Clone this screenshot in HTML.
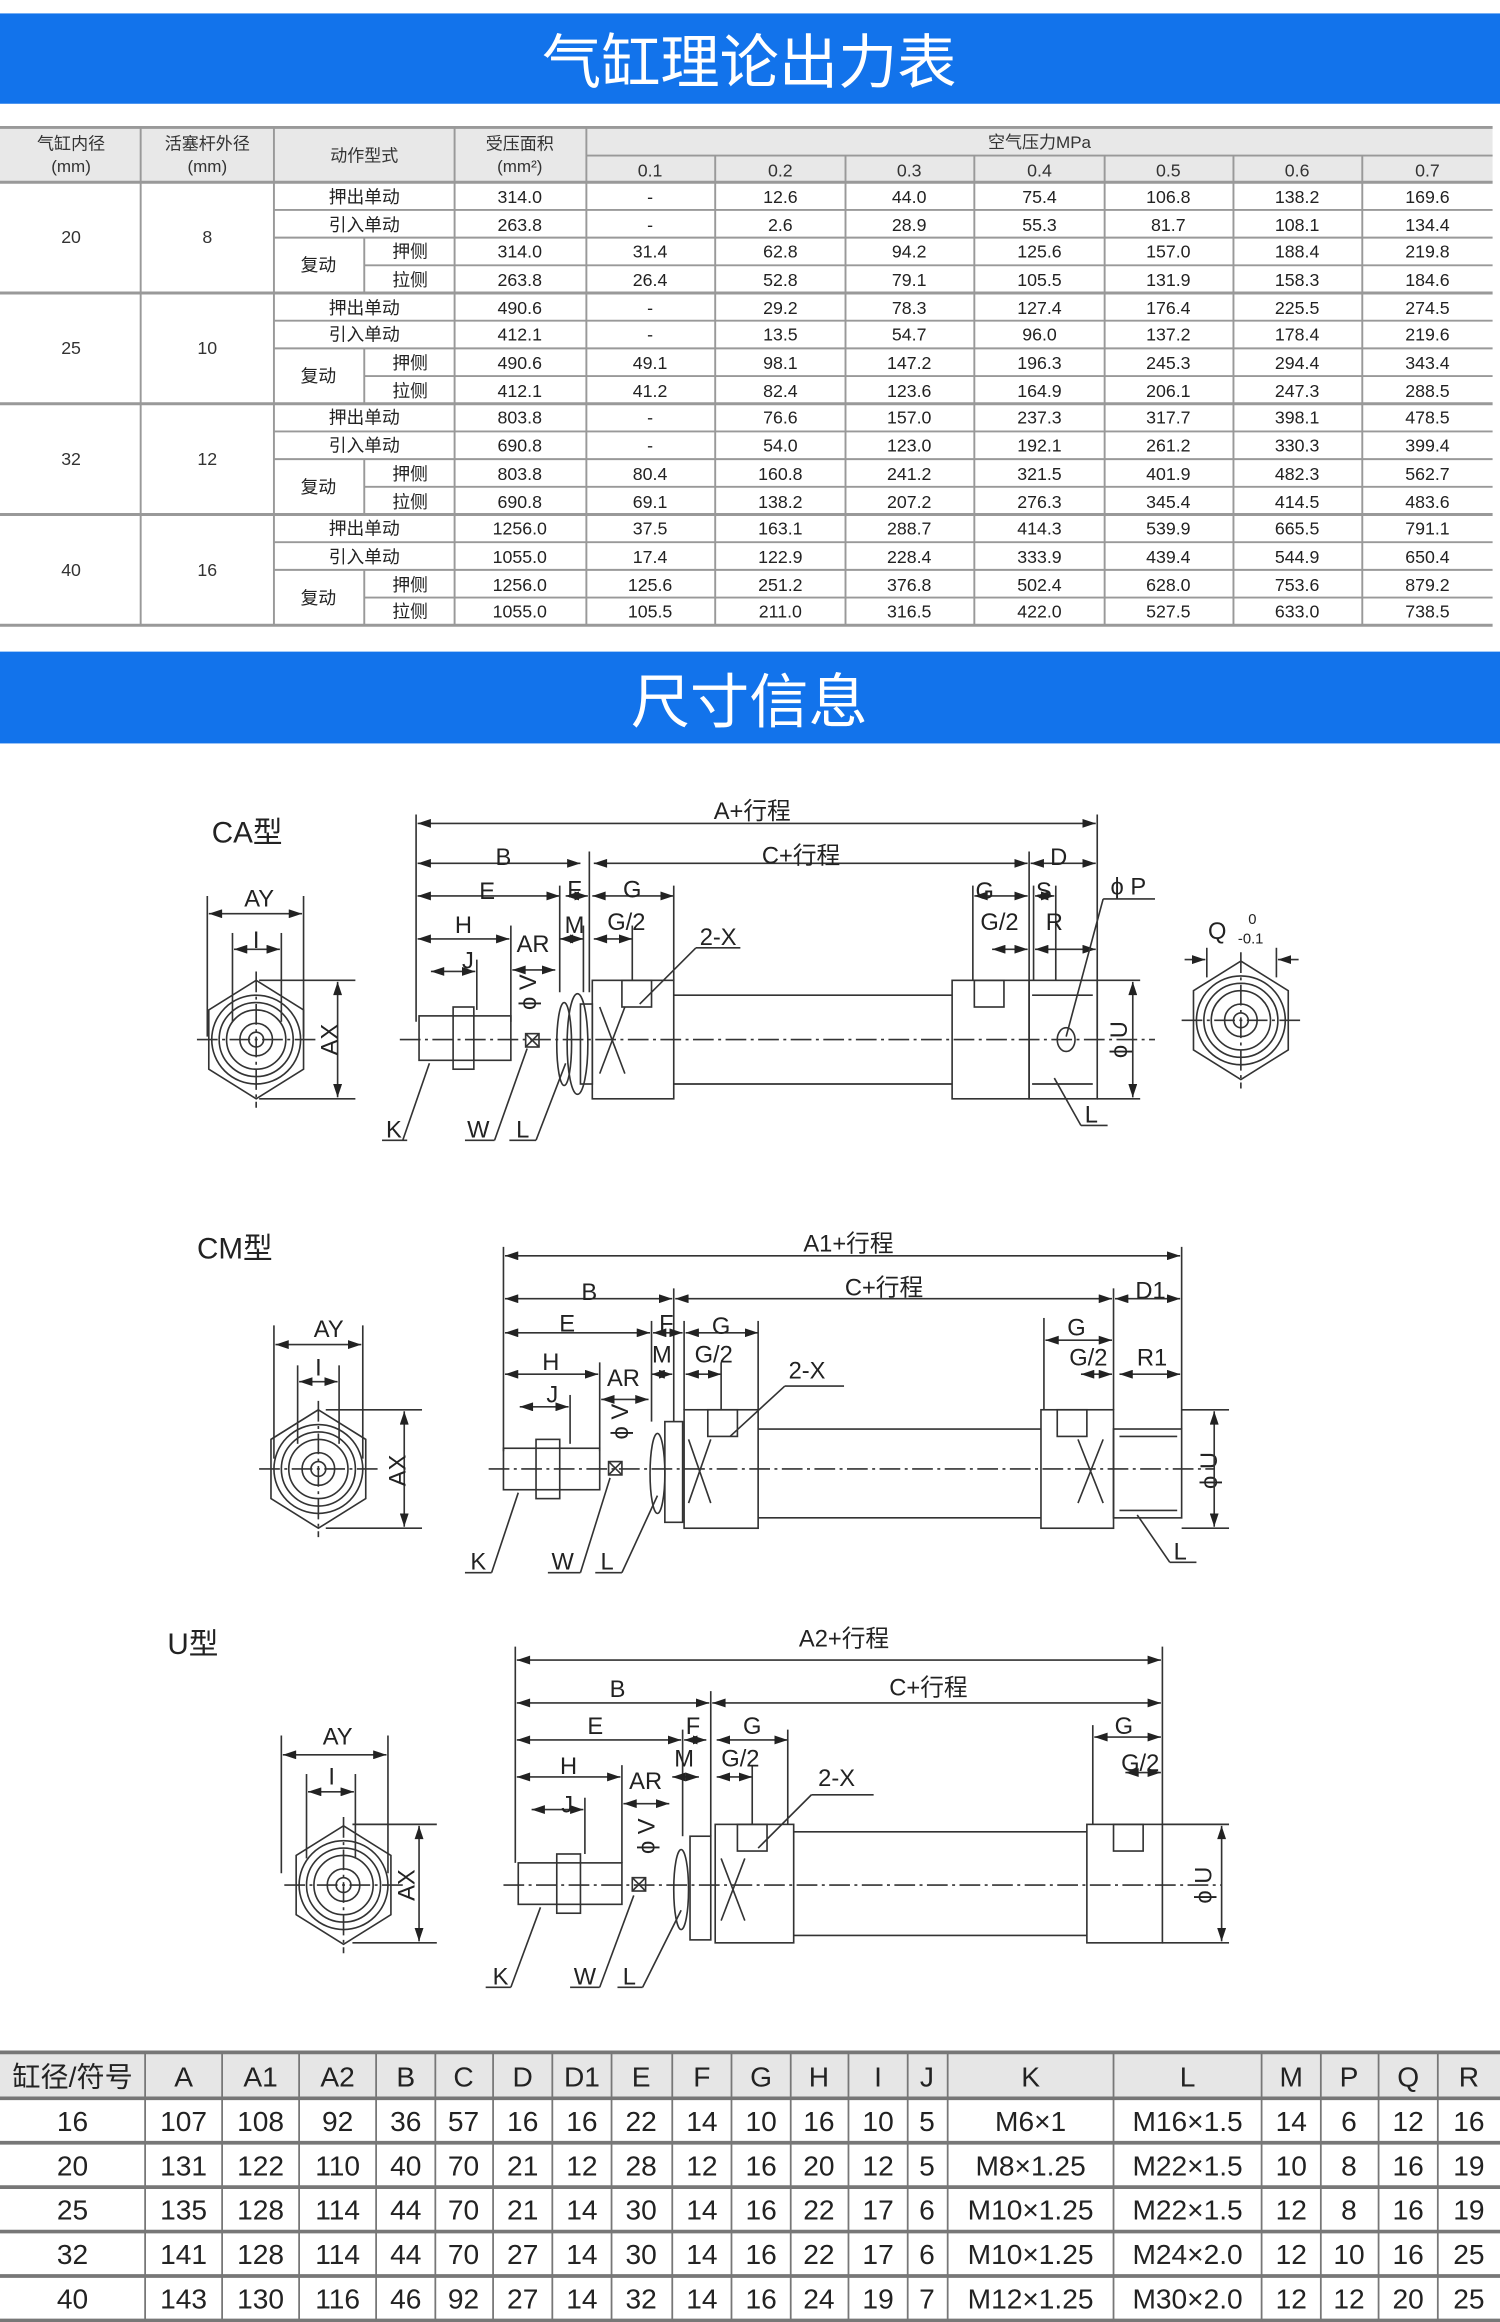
<!DOCTYPE html>
<html><head><meta charset="utf-8"><style>
html,body{margin:0;padding:0;background:#fff;width:1500px;height:2322px;overflow:hidden}
svg{display:block}
text{font-family:"Liberation Sans","Noto Sans CJK SC",sans-serif;fill:#222}
.t{font-size:12px;text-anchor:middle;fill:#333}
.h{font-size:11.5px;text-anchor:middle;fill:#333}
.b{font-size:19px;text-anchor:middle;fill:#333}
.d{font-size:16px;text-anchor:middle;fill:#222}
.g line,.g rect,.g ellipse,.g polygon,.g circle,.g path,.g polyline{stroke:#333;fill:none;stroke-width:1.1}
.dim{stroke:#333;stroke-width:1;marker-start:url(#a1);marker-end:url(#a2)}
.cl{stroke:#555;stroke-width:1;stroke-dasharray:14 3 2 3}
</style></head><body>
<svg width="1500" height="2322" viewBox="0 0 1013 1568" xmlns="http://www.w3.org/2000/svg">
<defs>
<marker id="a2" markerWidth="10" markerHeight="6" refX="9" refY="3" orient="auto" markerUnits="userSpaceOnUse"><path d="M0,0 L9,3 L0,6z" fill="#222"/></marker>
<marker id="a1" markerWidth="10" markerHeight="6" refX="0" refY="3" orient="auto" markerUnits="userSpaceOnUse"><path d="M9,0 L0,3 L9,6z" fill="#222"/></marker>
<g id="hex" class="g"><polygon points="0,-40 32,-20 32,20 0,40 -32,20 -32,-20"/><circle r="30"/><circle r="25"/><circle r="20"/><circle r="11"/><circle r="5"/><line x1="-40" y1="0" x2="40" y2="0" class="cl"/><line x1="0" y1="-46" x2="0" y2="46" class="cl"/></g>
</defs>
<!-- banner 1 -->
<rect x="0" y="9" width="1013" height="61" fill="#1273eb"/>
<text x="506" y="56" style="font-size:40px;text-anchor:middle;fill:#fff;font-family:'Noto Sans CJK SC',sans-serif">气缸理论出力表</text>
<!-- top table -->
<rect x="0" y="86" width="1008" height="37" fill="#e8e8e8"/>
<g stroke="#999" stroke-width="1.3">
<line x1="0" y1="86" x2="1008" y2="86" stroke-width="2"/>
<line x1="396" y1="105" x2="1008" y2="105"/>
<line x1="0" y1="123" x2="1008" y2="123" stroke-width="2"/>
<line x1="0" y1="197.8" x2="1008" y2="197.8" stroke-width="2"/>
<line x1="0" y1="272.6" x2="1008" y2="272.6" stroke-width="2"/>
<line x1="0" y1="347.4" x2="1008" y2="347.4" stroke-width="2"/>
<line x1="0" y1="422.2" x2="1008" y2="422.2" stroke-width="2"/>
<line x1="185" y1="141.7" x2="1008" y2="141.7"/><line x1="185" y1="160.4" x2="1008" y2="160.4"/><line x1="246" y1="179.1" x2="1008" y2="179.1"/>
<line x1="185" y1="216.5" x2="1008" y2="216.5"/><line x1="185" y1="235.2" x2="1008" y2="235.2"/><line x1="246" y1="253.9" x2="1008" y2="253.9"/>
<line x1="185" y1="291.3" x2="1008" y2="291.3"/><line x1="185" y1="310" x2="1008" y2="310"/><line x1="246" y1="328.7" x2="1008" y2="328.7"/>
<line x1="185" y1="366.1" x2="1008" y2="366.1"/><line x1="185" y1="384.8" x2="1008" y2="384.8"/><line x1="246" y1="403.5" x2="1008" y2="403.5"/>
<line x1="95" y1="86" x2="95" y2="422"/><line x1="185" y1="86" x2="185" y2="422"/><line x1="307" y1="86" x2="307" y2="422"/><line x1="396" y1="86" x2="396" y2="422"/>
<line x1="483" y1="105" x2="483" y2="422"/><line x1="571" y1="105" x2="571" y2="422"/><line x1="658" y1="105" x2="658" y2="422"/><line x1="746" y1="105" x2="746" y2="422"/><line x1="833" y1="105" x2="833" y2="422"/><line x1="920" y1="105" x2="920" y2="422"/>
<line x1="246" y1="160.4" x2="246" y2="197.8"/><line x1="246" y1="235.2" x2="246" y2="272.6"/><line x1="246" y1="310" x2="246" y2="347.4"/><line x1="246" y1="384.8" x2="246" y2="422.2"/>
</g>
<text class="h" x="48" y="101">气缸内径</text><text class="h" x="48" y="116">(mm)</text>
<text class="h" x="140" y="101">活塞杆外径</text><text class="h" x="140" y="116">(mm)</text>
<text class="h" x="246" y="109">动作型式</text>
<text class="h" x="351" y="101">受压面积</text><text class="h" x="351" y="116">(mm²)</text>
<text class="h" x="702" y="100">空气压力MPa</text>
<text class="t" x="439" y="119">0.1</text><text class="t" x="527" y="119">0.2</text><text class="t" x="614" y="119">0.3</text><text class="t" x="702" y="119">0.4</text><text class="t" x="789" y="119">0.5</text><text class="t" x="876" y="119">0.6</text><text class="t" x="964" y="119">0.7</text>
<text class="t" x="48" y="164">20</text><text class="t" x="140" y="164">8</text>
<text class="t" x="48" y="239">25</text><text class="t" x="140" y="239">10</text>
<text class="t" x="48" y="314">32</text><text class="t" x="140" y="314">12</text>
<text class="t" x="48" y="389">40</text><text class="t" x="140" y="389">16</text>
<g class="t">
<text x="246" y="137">押出单动</text><text x="246" y="156">引入单动</text><text x="215" y="183">复动</text><text x="277" y="174">押侧</text><text x="277" y="193">拉侧</text>
<text x="246" y="212">押出单动</text><text x="246" y="230">引入单动</text><text x="215" y="258">复动</text><text x="277" y="249">押侧</text><text x="277" y="268">拉侧</text>
<text x="246" y="286">押出单动</text><text x="246" y="305">引入单动</text><text x="215" y="333">复动</text><text x="277" y="324">押侧</text><text x="277" y="343">拉侧</text>
<text x="246" y="361">押出单动</text><text x="246" y="380">引入单动</text><text x="215" y="408">复动</text><text x="277" y="399">押侧</text><text x="277" y="417">拉侧</text>
</g>
<g class="t">
<text x="351" y="137">314.0</text><text x="439" y="137">-</text><text x="527" y="137">12.6</text><text x="614" y="137">44.0</text><text x="702" y="137">75.4</text><text x="789" y="137">106.8</text><text x="876" y="137">138.2</text><text x="964" y="137">169.6</text>
<text x="351" y="156">263.8</text><text x="439" y="156">-</text><text x="527" y="156">2.6</text><text x="614" y="156">28.9</text><text x="702" y="156">55.3</text><text x="789" y="156">81.7</text><text x="876" y="156">108.1</text><text x="964" y="156">134.4</text>
<text x="351" y="174">314.0</text><text x="439" y="174">31.4</text><text x="527" y="174">62.8</text><text x="614" y="174">94.2</text><text x="702" y="174">125.6</text><text x="789" y="174">157.0</text><text x="876" y="174">188.4</text><text x="964" y="174">219.8</text>
<text x="351" y="193">263.8</text><text x="439" y="193">26.4</text><text x="527" y="193">52.8</text><text x="614" y="193">79.1</text><text x="702" y="193">105.5</text><text x="789" y="193">131.9</text><text x="876" y="193">158.3</text><text x="964" y="193">184.6</text>
<text x="351" y="212">490.6</text><text x="439" y="212">-</text><text x="527" y="212">29.2</text><text x="614" y="212">78.3</text><text x="702" y="212">127.4</text><text x="789" y="212">176.4</text><text x="876" y="212">225.5</text><text x="964" y="212">274.5</text>
<text x="351" y="230">412.1</text><text x="439" y="230">-</text><text x="527" y="230">13.5</text><text x="614" y="230">54.7</text><text x="702" y="230">96.0</text><text x="789" y="230">137.2</text><text x="876" y="230">178.4</text><text x="964" y="230">219.6</text>
<text x="351" y="249">490.6</text><text x="439" y="249">49.1</text><text x="527" y="249">98.1</text><text x="614" y="249">147.2</text><text x="702" y="249">196.3</text><text x="789" y="249">245.3</text><text x="876" y="249">294.4</text><text x="964" y="249">343.4</text>
<text x="351" y="268">412.1</text><text x="439" y="268">41.2</text><text x="527" y="268">82.4</text><text x="614" y="268">123.6</text><text x="702" y="268">164.9</text><text x="789" y="268">206.1</text><text x="876" y="268">247.3</text><text x="964" y="268">288.5</text>
<text x="351" y="286">803.8</text><text x="439" y="286">-</text><text x="527" y="286">76.6</text><text x="614" y="286">157.0</text><text x="702" y="286">237.3</text><text x="789" y="286">317.7</text><text x="876" y="286">398.1</text><text x="964" y="286">478.5</text>
<text x="351" y="305">690.8</text><text x="439" y="305">-</text><text x="527" y="305">54.0</text><text x="614" y="305">123.0</text><text x="702" y="305">192.1</text><text x="789" y="305">261.2</text><text x="876" y="305">330.3</text><text x="964" y="305">399.4</text>
<text x="351" y="324">803.8</text><text x="439" y="324">80.4</text><text x="527" y="324">160.8</text><text x="614" y="324">241.2</text><text x="702" y="324">321.5</text><text x="789" y="324">401.9</text><text x="876" y="324">482.3</text><text x="964" y="324">562.7</text>
<text x="351" y="343">690.8</text><text x="439" y="343">69.1</text><text x="527" y="343">138.2</text><text x="614" y="343">207.2</text><text x="702" y="343">276.3</text><text x="789" y="343">345.4</text><text x="876" y="343">414.5</text><text x="964" y="343">483.6</text>
<text x="351" y="361">1256.0</text><text x="439" y="361">37.5</text><text x="527" y="361">163.1</text><text x="614" y="361">288.7</text><text x="702" y="361">414.3</text><text x="789" y="361">539.9</text><text x="876" y="361">665.5</text><text x="964" y="361">791.1</text>
<text x="351" y="380">1055.0</text><text x="439" y="380">17.4</text><text x="527" y="380">122.9</text><text x="614" y="380">228.4</text><text x="702" y="380">333.9</text><text x="789" y="380">439.4</text><text x="876" y="380">544.9</text><text x="964" y="380">650.4</text>
<text x="351" y="399">1256.0</text><text x="439" y="399">125.6</text><text x="527" y="399">251.2</text><text x="614" y="399">376.8</text><text x="702" y="399">502.4</text><text x="789" y="399">628.0</text><text x="876" y="399">753.6</text><text x="964" y="399">879.2</text>
<text x="351" y="417">1055.0</text><text x="439" y="417">105.5</text><text x="527" y="417">211.0</text><text x="614" y="417">316.5</text><text x="702" y="417">422.0</text><text x="789" y="417">527.5</text><text x="876" y="417">633.0</text><text x="964" y="417">738.5</text>
</g>
<!-- banner 2 -->
<rect x="0" y="440" width="1013" height="62" fill="#1273eb"/>
<text x="506" y="488" style="font-size:40px;text-anchor:middle;fill:#fff;font-family:'Noto Sans CJK SC',sans-serif">尺寸信息</text>

<!-- CA -->
<g class="g">
<text x="143" y="569" style="font-size:20px;stroke:none">CA型</text>
<use href="#hex" x="173" y="702"/>
<line x1="140" y1="605" x2="140" y2="700"/><line x1="205" y1="605" x2="205" y2="700"/>
<line x1="157" y1="630" x2="157" y2="690"/><line x1="190" y1="630" x2="190" y2="690"/>
<line class="dim" x1="141" y1="617" x2="204" y2="617"/><line class="dim" x1="158" y1="641" x2="189" y2="641"/>
<line x1="175" y1="662" x2="240" y2="662"/><line x1="175" y1="742" x2="240" y2="742"/><line class="dim" x1="228" y1="663" x2="228" y2="741"/>
<line class="cl" x1="270" y1="702" x2="780" y2="702"/>
<line x1="281" y1="550" x2="281" y2="690"/><line x1="741" y1="550" x2="741" y2="700"/>
<line x1="398" y1="575" x2="398" y2="670"/><line x1="695" y1="575" x2="695" y2="662"/>
<line class="dim" x1="282" y1="556" x2="740" y2="556"/>
<line class="dim" x1="282" y1="583" x2="392" y2="583"/><line class="dim" x1="401" y1="583" x2="694" y2="583"/><line class="dim" x1="696" y1="583" x2="740" y2="583"/>
<line class="dim" x1="282" y1="605" x2="378" y2="605"/><line class="dim" x1="382" y1="605" x2="397" y2="605"/><line class="dim" x1="400" y1="605" x2="455" y2="605"/>
<line x1="455" y1="598" x2="455" y2="662"/><line x1="378" y1="598" x2="378" y2="670"/>
<line class="dim" x1="282" y1="634" x2="344" y2="634"/><line class="dim" x1="378" y1="634" x2="394" y2="634"/><line class="dim" x1="401" y1="634" x2="427" y2="634"/>
<line x1="345" y1="625" x2="345" y2="690"/><line x1="427" y1="625" x2="427" y2="662"/><line x1="394" y1="625" x2="394" y2="670"/>
<line class="dim" x1="291" y1="656" x2="321" y2="656"/><line x1="322" y1="648" x2="322" y2="682"/>
<line class="dim" x1="346" y1="655" x2="375" y2="655"/>
<line x1="698" y1="598" x2="698" y2="662"/><line x1="657" y1="598" x2="657" y2="662"/><line x1="713" y1="598" x2="713" y2="662"/>
<line class="dim" x1="658" y1="605" x2="694" y2="605"/><line class="dim" x1="699" y1="605" x2="712" y2="605"/>
<line class="dim" x1="670" y1="641" x2="694" y2="641"/><line class="dim" x1="699" y1="641" x2="740" y2="641"/>
<text x="508" y="553" class="d" style="stroke:none">A+行程</text>
<text x="340" y="584" class="d" style="stroke:none">B</text><text x="541" y="583" class="d" style="stroke:none">C+行程</text><text x="715" y="584" class="d" style="stroke:none">D</text>
<text x="329" y="607" class="d" style="stroke:none">E</text><text x="388" y="606" class="d" style="stroke:none">F</text><text x="427" y="606" class="d" style="stroke:none">G</text>
<text x="313" y="630" class="d" style="stroke:none">H</text><text x="388" y="630" class="d" style="stroke:none">M</text><text x="423" y="628" class="d" style="stroke:none">G/2</text><text x="360" y="643" class="d" style="stroke:none">AR</text>
<text x="316" y="654" class="d" style="stroke:none">J</text><text x="175" y="612" class="d" style="stroke:none">AY</text><text x="173" y="640" class="d" style="stroke:none">I</text>
<text x="665" y="607" class="d" style="stroke:none">G</text><text x="705" y="607" class="d" style="stroke:none">S</text><text x="675" y="628" class="d" style="stroke:none">G/2</text><text x="712" y="628" class="d" style="stroke:none">R</text>
<text x="762" y="604" class="d" style="stroke:none">ϕ P</text><text x="485" y="638" class="d" style="stroke:none">2-X</text>
<text transform="translate(228,702) rotate(-90)" class="d" style="stroke:none">AX</text>
<text transform="translate(362,670) rotate(-90)" class="d" style="stroke:none">ϕ V</text>
<text transform="translate(761,702) rotate(-90)" class="d" style="stroke:none">ϕ U</text>
<line x1="745" y1="607" x2="780" y2="607"/><line x1="745" y1="607" x2="720" y2="700"/>
<line x1="470" y1="640" x2="500" y2="640"/><line x1="470" y1="640" x2="432" y2="678"/>
<rect x="283" y="686" width="62" height="30"/><rect x="306" y="680" width="14" height="42"/>
<rect x="355" y="698" width="9" height="9"/><line x1="355" y1="698" x2="364" y2="707"/><line x1="364" y1="698" x2="355" y2="707"/>
<ellipse cx="381" cy="705" rx="5" ry="28"/><ellipse cx="390" cy="705" rx="7" ry="34"/><rect x="392" y="678" width="8" height="54"/>
<rect x="400" y="662" width="55" height="80"/><rect x="420" y="662" width="20" height="18"/>
<line x1="405" y1="680" x2="422" y2="725"/><line x1="422" y1="680" x2="405" y2="725"/>
<line x1="455" y1="672" x2="643" y2="672"/><line x1="455" y1="732" x2="643" y2="732"/>
<rect x="643" y="662" width="52" height="80"/><rect x="658" y="662" width="20" height="18"/>
<rect x="695" y="662" width="46" height="80"/><line x1="697" y1="672" x2="738" y2="672"/><line x1="697" y1="732" x2="738" y2="732"/>
<ellipse cx="720" cy="702" rx="6" ry="8"/>
<line x1="741" y1="662" x2="770" y2="662"/><line x1="741" y1="742" x2="770" y2="742"/><line class="dim" x1="765" y1="663" x2="765" y2="741"/>
<use href="#hex" x="838" y="689"/>
<line x1="815" y1="640" x2="815" y2="660"/><line x1="862" y1="640" x2="862" y2="660"/>
<line class="dim" x1="800" y1="648" x2="814" y2="648" style="marker-start:none"/><line class="dim" x1="877" y1="648" x2="863" y2="648" style="marker-start:none"/>
<text x="822" y="634" class="d" style="stroke:none">Q</text><text x="843" y="624" style="font-size:10px;stroke:none">0</text><text x="836" y="637" style="font-size:10px;stroke:none">-0.1</text>
<line x1="290" y1="718" x2="272" y2="770"/><line x1="258" y1="770" x2="275" y2="770"/><text x="266" y="768" class="d" style="stroke:none">K</text>
<line x1="356" y1="708" x2="334" y2="770"/><line x1="314" y1="770" x2="334" y2="770"/><text x="323" y="768" class="d" style="stroke:none">W</text>
<line x1="382" y1="718" x2="362" y2="770"/><line x1="344" y1="770" x2="362" y2="770"/><text x="353" y="768" class="d" style="stroke:none">L</text>
<line x1="712" y1="728" x2="730" y2="760"/><line x1="730" y1="760" x2="748" y2="760"/><text x="737" y="758" class="d" style="stroke:none">L</text>
</g>

<!-- CM -->
<g class="g">
<text x="133" y="850" style="font-size:20px;stroke:none">CM型</text>
<use href="#hex" x="215" y="992"/>
<line x1="185" y1="895" x2="185" y2="985"/><line x1="245" y1="895" x2="245" y2="985"/>
<line x1="201" y1="922" x2="201" y2="975"/><line x1="229" y1="922" x2="229" y2="975"/>
<line class="dim" x1="186" y1="908" x2="244" y2="908"/><line class="dim" x1="202" y1="933" x2="228" y2="933"/>
<text x="222" y="903" class="d" style="stroke:none">AY</text><text x="215" y="929" class="d" style="stroke:none">I</text>
<line x1="220" y1="952" x2="285" y2="952"/><line x1="220" y1="1032" x2="285" y2="1032"/><line class="dim" x1="273" y1="953" x2="273" y2="1031"/>
<text transform="translate(274,993) rotate(-90)" class="d" style="stroke:none">AX</text>
<line class="cl" x1="330" y1="992" x2="820" y2="992"/>
<line x1="340" y1="842" x2="340" y2="980"/><line x1="798" y1="842" x2="798" y2="965"/>
<line x1="455" y1="870" x2="455" y2="960"/><line x1="752" y1="870" x2="752" y2="952"/>
<line class="dim" x1="341" y1="848" x2="797" y2="848"/>
<line class="dim" x1="341" y1="877" x2="454" y2="877"/><line class="dim" x1="456" y1="877" x2="751" y2="877"/><line class="dim" x1="753" y1="877" x2="797" y2="877"/>
<line class="dim" x1="341" y1="900" x2="439" y2="900"/><line class="dim" x1="441" y1="900" x2="461" y2="900"/><line class="dim" x1="463" y1="900" x2="512" y2="900"/>
<line x1="512" y1="892" x2="512" y2="952"/><line x1="440" y1="892" x2="440" y2="960"/><line x1="462" y1="892" x2="462" y2="952"/>
<line class="dim" x1="341" y1="928" x2="404" y2="928"/><line class="dim" x1="440" y1="928" x2="454" y2="928"/><line class="dim" x1="463" y1="928" x2="487" y2="928"/>
<line x1="405" y1="920" x2="405" y2="980"/><line x1="487" y1="920" x2="487" y2="952"/>
<line class="dim" x1="351" y1="950" x2="384" y2="950"/><line x1="385" y1="942" x2="385" y2="975"/><line class="dim" x1="406" y1="945" x2="438" y2="945"/>
<line x1="705" y1="890" x2="705" y2="952"/>
<line class="dim" x1="706" y1="905" x2="751" y2="905"/><line class="dim" x1="730" y1="928" x2="751" y2="928"/><line class="dim" x1="756" y1="928" x2="797" y2="928"/>
<text x="573" y="845" class="d" style="stroke:none">A1+行程</text>
<text x="398" y="878" class="d" style="stroke:none">B</text><text x="597" y="875" class="d" style="stroke:none">C+行程</text><text x="777" y="877" class="d" style="stroke:none">D1</text>
<text x="383" y="899" class="d" style="stroke:none">E</text><text x="450" y="899" class="d" style="stroke:none">F</text><text x="487" y="901" class="d" style="stroke:none">G</text>
<text x="372" y="925" class="d" style="stroke:none">H</text><text x="447" y="920" class="d" style="stroke:none">M</text><text x="482" y="920" class="d" style="stroke:none">G/2</text><text x="421" y="936" class="d" style="stroke:none">AR</text>
<text x="373" y="947" class="d" style="stroke:none">J</text>
<text x="727" y="902" class="d" style="stroke:none">G</text><text x="735" y="922" class="d" style="stroke:none">G/2</text><text x="778" y="922" class="d" style="stroke:none">R1</text>
<text x="545" y="931" class="d" style="stroke:none">2-X</text>
<text transform="translate(424,960) rotate(-90)" class="d" style="stroke:none">ϕ V</text>
<text transform="translate(822,993) rotate(-90)" class="d" style="stroke:none">ϕ U</text>
<line x1="530" y1="936" x2="570" y2="936"/><line x1="530" y1="936" x2="493" y2="970"/>
<rect x="340" y="978" width="65" height="28"/><rect x="362" y="972" width="16" height="40"/>
<rect x="411" y="987" width="9" height="9"/><line x1="411" y1="987" x2="420" y2="996"/><line x1="420" y1="987" x2="411" y2="996"/>
<ellipse cx="444" cy="995" rx="5" ry="27"/><rect x="449" y="960" width="12" height="68"/>
<rect x="462" y="952" width="50" height="80"/><rect x="478" y="952" width="20" height="18"/>
<line x1="465" y1="972" x2="480" y2="1015"/><line x1="480" y1="972" x2="465" y2="1015"/>
<line x1="512" y1="965" x2="703" y2="965"/><line x1="512" y1="1025" x2="703" y2="1025"/>
<rect x="703" y="952" width="49" height="80"/><rect x="714" y="952" width="20" height="18"/>
<line x1="728" y1="972" x2="745" y2="1015"/><line x1="745" y1="972" x2="728" y2="1015"/>
<rect x="752" y="965" width="46" height="60"/><line x1="756" y1="970" x2="795" y2="970"/><line x1="756" y1="1020" x2="795" y2="1020"/>
<line x1="798" y1="952" x2="830" y2="952"/><line x1="798" y1="1032" x2="830" y2="1032"/><line class="dim" x1="820" y1="953" x2="820" y2="1031"/>
<line x1="350" y1="1008" x2="332" y2="1062"/><line x1="314" y1="1062" x2="332" y2="1062"/><text x="323" y="1060" class="d" style="stroke:none">K</text>
<line x1="412" y1="998" x2="392" y2="1062"/><line x1="370" y1="1062" x2="392" y2="1062"/><text x="380" y="1060" class="d" style="stroke:none">W</text>
<line x1="444" y1="1010" x2="420" y2="1062"/><line x1="402" y1="1062" x2="420" y2="1062"/><text x="410" y="1060" class="d" style="stroke:none">L</text>
<line x1="768" y1="1023" x2="790" y2="1055"/><line x1="790" y1="1055" x2="808" y2="1055"/><text x="797" y="1053" class="d" style="stroke:none">L</text>
</g>

<!-- U -->
<g class="g">
<text x="113" y="1117" style="font-size:20px;stroke:none">U型</text>
<use href="#hex" x="232" y="1273"/>
<line x1="190" y1="1172" x2="190" y2="1265"/><line x1="262" y1="1172" x2="262" y2="1265"/>
<line x1="207" y1="1198" x2="207" y2="1255"/><line x1="240" y1="1198" x2="240" y2="1255"/>
<line class="dim" x1="191" y1="1185" x2="261" y2="1185"/><line class="dim" x1="208" y1="1210" x2="239" y2="1210"/>
<text x="228" y="1178" class="d" style="stroke:none">AY</text><text x="224" y="1205" class="d" style="stroke:none">I</text>
<line x1="238" y1="1232" x2="295" y2="1232"/><line x1="238" y1="1312" x2="295" y2="1312"/><line class="dim" x1="283" y1="1233" x2="283" y2="1311"/>
<text transform="translate(280,1273) rotate(-90)" class="d" style="stroke:none">AX</text>
<line class="cl" x1="340" y1="1273" x2="825" y2="1273"/>
<line x1="348" y1="1112" x2="348" y2="1258"/><line x1="785" y1="1112" x2="785" y2="1232"/>
<line x1="480" y1="1142" x2="480" y2="1240"/>
<line class="dim" x1="349" y1="1121" x2="784" y2="1121"/>
<line class="dim" x1="349" y1="1150" x2="479" y2="1150"/><line class="dim" x1="481" y1="1150" x2="784" y2="1150"/>
<line class="dim" x1="349" y1="1175" x2="460" y2="1175"/><line class="dim" x1="462" y1="1175" x2="477" y2="1175"/><line class="dim" x1="484" y1="1175" x2="532" y2="1175"/>
<line x1="461" y1="1168" x2="461" y2="1240"/><line x1="532" y1="1168" x2="532" y2="1232"/>
<line class="dim" x1="349" y1="1200" x2="419" y2="1200"/><line class="dim" x1="454" y1="1200" x2="472" y2="1200"/><line class="dim" x1="484" y1="1200" x2="508" y2="1200"/>
<line x1="420" y1="1192" x2="420" y2="1258"/><line x1="508" y1="1192" x2="508" y2="1232"/>
<line class="dim" x1="359" y1="1222" x2="394" y2="1222"/><line x1="395" y1="1214" x2="395" y2="1252"/><line class="dim" x1="421" y1="1218" x2="452" y2="1218"/>
<line x1="738" y1="1165" x2="738" y2="1232"/>
<line class="dim" x1="739" y1="1173" x2="784" y2="1173"/><line class="dim" x1="760" y1="1197" x2="784" y2="1197"/>
<text x="570" y="1112" class="d" style="stroke:none">A2+行程</text>
<text x="417" y="1146" class="d" style="stroke:none">B</text><text x="627" y="1145" class="d" style="stroke:none">C+行程</text>
<text x="402" y="1171" class="d" style="stroke:none">E</text><text x="468" y="1171" class="d" style="stroke:none">F</text><text x="508" y="1171" class="d" style="stroke:none">G</text>
<text x="384" y="1198" class="d" style="stroke:none">H</text><text x="462" y="1193" class="d" style="stroke:none">M</text><text x="500" y="1193" class="d" style="stroke:none">G/2</text><text x="436" y="1208" class="d" style="stroke:none">AR</text>
<text x="383" y="1224" class="d" style="stroke:none">J</text>
<text x="759" y="1171" class="d" style="stroke:none">G</text><text x="770" y="1196" class="d" style="stroke:none">G/2</text>
<text x="565" y="1206" class="d" style="stroke:none">2-X</text>
<text transform="translate(442,1240) rotate(-90)" class="d" style="stroke:none">ϕ V</text>
<text transform="translate(818,1273) rotate(-90)" class="d" style="stroke:none">ϕ U</text>
<line x1="548" y1="1212" x2="590" y2="1212"/><line x1="548" y1="1212" x2="512" y2="1248"/>
<rect x="350" y="1258" width="70" height="28"/><rect x="376" y="1252" width="16" height="40"/>
<rect x="427" y="1268" width="9" height="9"/><line x1="427" y1="1268" x2="436" y2="1277"/><line x1="436" y1="1268" x2="427" y2="1277"/>
<ellipse cx="460" cy="1276" rx="5" ry="27"/><rect x="466" y="1240" width="14" height="70"/>
<rect x="483" y="1232" width="53" height="80"/><rect x="498" y="1232" width="20" height="18"/>
<line x1="487" y1="1255" x2="503" y2="1297"/><line x1="503" y1="1255" x2="487" y2="1297"/>
<line x1="536" y1="1237" x2="734" y2="1237"/><line x1="536" y1="1307" x2="734" y2="1307"/>
<rect x="734" y="1232" width="51" height="80"/><rect x="752" y="1232" width="20" height="18"/>
<line x1="785" y1="1232" x2="830" y2="1232"/><line x1="785" y1="1312" x2="830" y2="1312"/><line class="dim" x1="825" y1="1233" x2="825" y2="1311"/>
<line x1="365" y1="1288" x2="345" y2="1342"/><line x1="328" y1="1342" x2="345" y2="1342"/><text x="338" y="1340" class="d" style="stroke:none">K</text>
<line x1="428" y1="1280" x2="405" y2="1342"/><line x1="385" y1="1342" x2="405" y2="1342"/><text x="395" y="1340" class="d" style="stroke:none">W</text>
<line x1="460" y1="1290" x2="434" y2="1342"/><line x1="417" y1="1342" x2="434" y2="1342"/><text x="425" y="1340" class="d" style="stroke:none">L</text>
</g>

<!-- bottom table -->
<rect x="0" y="1386" width="1013" height="31" fill="#e6e6e6"/>
<g stroke="#777" stroke-width="1.2">
<line x1="0" y1="1386" x2="1013" y2="1386" stroke-width="2.5"/><line x1="0" y1="1417" x2="1013" y2="1417" stroke-width="2.5"/>
<line x1="0" y1="1447" x2="1013" y2="1447" stroke-width="2.5"/><line x1="0" y1="1477" x2="1013" y2="1477" stroke-width="2.5"/>
<line x1="0" y1="1507" x2="1013" y2="1507" stroke-width="2.5"/><line x1="0" y1="1537" x2="1013" y2="1537" stroke-width="2.5"/>
<line x1="0" y1="1567" x2="1013" y2="1567" stroke-width="2.5"/>
<line x1="98" y1="1386" x2="98" y2="1568"/><line x1="150" y1="1386" x2="150" y2="1568"/><line x1="202" y1="1386" x2="202" y2="1568"/><line x1="254" y1="1386" x2="254" y2="1568"/><line x1="294" y1="1386" x2="294" y2="1568"/><line x1="333" y1="1386" x2="333" y2="1568"/><line x1="373" y1="1386" x2="373" y2="1568"/><line x1="413" y1="1386" x2="413" y2="1568"/><line x1="454" y1="1386" x2="454" y2="1568"/><line x1="494" y1="1386" x2="494" y2="1568"/><line x1="534" y1="1386" x2="534" y2="1568"/><line x1="573" y1="1386" x2="573" y2="1568"/><line x1="613" y1="1386" x2="613" y2="1568"/><line x1="640" y1="1386" x2="640" y2="1568"/><line x1="752" y1="1386" x2="752" y2="1568"/><line x1="852" y1="1386" x2="852" y2="1568"/><line x1="892" y1="1386" x2="892" y2="1568"/><line x1="931" y1="1386" x2="931" y2="1568"/><line x1="971" y1="1386" x2="971" y2="1568"/>
</g>
<g class="b">
<text x="49" y="1409">缸径/符号</text><text x="124" y="1409">A</text><text x="176" y="1409">A1</text><text x="228" y="1409">A2</text><text x="274" y="1409">B</text><text x="313" y="1409">C</text><text x="353" y="1409">D</text><text x="393" y="1409">D1</text><text x="433" y="1409">E</text><text x="474" y="1409">F</text><text x="514" y="1409">G</text><text x="553" y="1409">H</text><text x="593" y="1409">I</text><text x="626" y="1409">J</text><text x="696" y="1409">K</text><text x="802" y="1409">L</text><text x="872" y="1409">M</text><text x="911" y="1409">P</text><text x="951" y="1409">Q</text><text x="992" y="1409">R</text>
<text x="49" y="1439">16</text><text x="124" y="1439">107</text><text x="176" y="1439">108</text><text x="228" y="1439">92</text><text x="274" y="1439">36</text><text x="313" y="1439">57</text><text x="353" y="1439">16</text><text x="393" y="1439">16</text><text x="433" y="1439">22</text><text x="474" y="1439">14</text><text x="514" y="1439">10</text><text x="553" y="1439">16</text><text x="593" y="1439">10</text><text x="626" y="1439">5</text><text x="696" y="1439">M6×1</text><text x="802" y="1439">M16×1.5</text><text x="872" y="1439">14</text><text x="911" y="1439">6</text><text x="951" y="1439">12</text><text x="992" y="1439">16</text>
<text x="49" y="1469">20</text><text x="124" y="1469">131</text><text x="176" y="1469">122</text><text x="228" y="1469">110</text><text x="274" y="1469">40</text><text x="313" y="1469">70</text><text x="353" y="1469">21</text><text x="393" y="1469">12</text><text x="433" y="1469">28</text><text x="474" y="1469">12</text><text x="514" y="1469">16</text><text x="553" y="1469">20</text><text x="593" y="1469">12</text><text x="626" y="1469">5</text><text x="696" y="1469">M8×1.25</text><text x="802" y="1469">M22×1.5</text><text x="872" y="1469">10</text><text x="911" y="1469">8</text><text x="951" y="1469">16</text><text x="992" y="1469">19</text>
<text x="49" y="1499">25</text><text x="124" y="1499">135</text><text x="176" y="1499">128</text><text x="228" y="1499">114</text><text x="274" y="1499">44</text><text x="313" y="1499">70</text><text x="353" y="1499">21</text><text x="393" y="1499">14</text><text x="433" y="1499">30</text><text x="474" y="1499">14</text><text x="514" y="1499">16</text><text x="553" y="1499">22</text><text x="593" y="1499">17</text><text x="626" y="1499">6</text><text x="696" y="1499">M10×1.25</text><text x="802" y="1499">M22×1.5</text><text x="872" y="1499">12</text><text x="911" y="1499">8</text><text x="951" y="1499">16</text><text x="992" y="1499">19</text>
<text x="49" y="1529">32</text><text x="124" y="1529">141</text><text x="176" y="1529">128</text><text x="228" y="1529">114</text><text x="274" y="1529">44</text><text x="313" y="1529">70</text><text x="353" y="1529">27</text><text x="393" y="1529">14</text><text x="433" y="1529">30</text><text x="474" y="1529">14</text><text x="514" y="1529">16</text><text x="553" y="1529">22</text><text x="593" y="1529">17</text><text x="626" y="1529">6</text><text x="696" y="1529">M10×1.25</text><text x="802" y="1529">M24×2.0</text><text x="872" y="1529">12</text><text x="911" y="1529">10</text><text x="951" y="1529">16</text><text x="992" y="1529">25</text>
<text x="49" y="1559">40</text><text x="124" y="1559">143</text><text x="176" y="1559">130</text><text x="228" y="1559">116</text><text x="274" y="1559">46</text><text x="313" y="1559">92</text><text x="353" y="1559">27</text><text x="393" y="1559">14</text><text x="433" y="1559">32</text><text x="474" y="1559">14</text><text x="514" y="1559">16</text><text x="553" y="1559">24</text><text x="593" y="1559">19</text><text x="626" y="1559">7</text><text x="696" y="1559">M12×1.25</text><text x="802" y="1559">M30×2.0</text><text x="872" y="1559">12</text><text x="911" y="1559">12</text><text x="951" y="1559">20</text><text x="992" y="1559">25</text>
</g>
</svg>
</body></html>
